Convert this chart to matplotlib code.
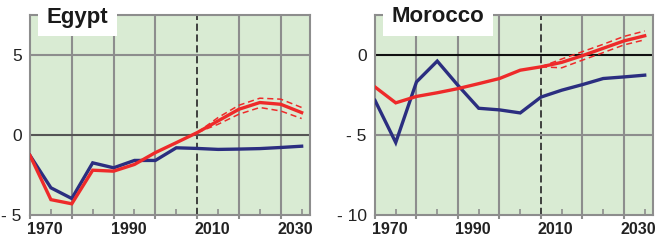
import matplotlib.pyplot as plt
from matplotlib.transforms import ScaledTranslation

years = [1965, 1970, 1975, 1980, 1985, 1990, 1995, 2000, 2005, 2010, 2015, 2020, 2025, 2030]
fc_years = [2005, 2010, 2015, 2020, 2025, 2030]

egypt_blue = [-1.28, -3.3, -3.97, -1.74, -2.05, -1.59, -1.59, -0.8, -0.84, -0.9, -0.88, -0.85, -0.78, -0.7]
egypt_red = [-1.28, -4.04, -4.3, -2.2, -2.26, -1.84, -1.1, -0.48, 0.15, 0.88, 1.61, 2.03, 1.92, 1.4]
egypt_hi = [0.15, 1.09, 1.86, 2.3, 2.24, 1.72]
egypt_lo = [0.15, 0.67, 1.3, 1.72, 1.5, 1.03]

morocco_blue = [-2.84, -5.47, -1.68, -0.38, -1.9, -3.33, -3.43, -3.62, -2.63, -2.2, -1.85, -1.47, -1.37, -1.26]
morocco_red = [-2.0, -2.99, -2.59, -2.36, -2.1, -1.79, -1.47, -0.95, -0.74, -0.46, -0.04, 0.42, 0.88, 1.2]
morocco_hi = [-0.74, -0.25, 0.21, 0.67, 1.16, 1.5]
morocco_lo = [-0.74, -0.8, -0.32, 0.15, 0.63, 0.95]

year_labels = ["1970", "", "1990", "", "2010", "", "2030"]

BG = "#d9ebd3"
GRID = "#8d8d8d"
BLUE = "#2b2e80"
RED = "#ee2a2a"
FONT = ["Liberation Sans", "DejaVu Sans"]

fig = plt.figure(figsize=(6.55, 2.42), dpi=100)

panels = [
    ("Egypt", [30 / 655, 27 / 242, 280 / 655, 200 / 242], (-5, 7.5), [-5, 0, 5], ["- 5", "0", "5"],
     egypt_blue, egypt_red, egypt_hi, egypt_lo, "#555555"),
    ("Morocco", [375 / 655, 27 / 242, 278 / 655, 200 / 242], (-10, 2.5), [-10, -5, 0], ["- 10", "- 5", "0"],
     morocco_blue, morocco_red, morocco_hi, morocco_lo, "#111111"),
]

shift = ScaledTranslation(-6 / 100, 0, fig.dpi_scale_trans)

for name, rect, ylim, yt, ytl, blue, red, hi, lo, zcol in panels:
    ax = fig.add_axes(rect)
    ax.set_facecolor(BG)
    ax.set_xlim(1965, 2032)
    ax.set_ylim(*ylim)

    for x in range(1975, 2030, 10):
        if x == 2005:
            ax.axvline(x, color="#333333", lw=1.3, ls=(0, (4, 2)), zorder=1)
        else:
            ax.axvline(x, color=GRID, lw=1.5, zorder=1)
    for y in yt[1:]:
        if y == 0:
            ax.axhline(0, color=zcol, lw=1.5, zorder=1)
        else:
            ax.axhline(y, color=GRID, lw=1.5, zorder=1)

    ax.plot(years, blue, color=BLUE, lw=2.4, zorder=3, solid_joinstyle="miter")
    ax.plot(years, red, color=RED, lw=2.4, zorder=4, solid_joinstyle="miter")
    ax.plot(fc_years, hi, color=RED, lw=1.1, ls=(0, (4, 2.5)), zorder=4)
    ax.plot(fc_years, lo, color=RED, lw=1.1, ls=(0, (4, 2.5)), zorder=4)

    for s in ax.spines.values():
        s.set_color(GRID)
        s.set_linewidth(1.5)

    ax.set_xticks(range(1965, 2030, 10))
    ax.set_xticklabels([])
    ax.tick_params(axis="x", which="major", direction="out", length=3, width=1.5, color=GRID)
    ax.set_xticks(range(1970, 2031, 10), minor=True)
    ax.set_xticklabels(year_labels, minor=True, fontsize=11.5, fontweight="bold", family=FONT, color="#222222")
    ax.tick_params(axis="x", which="minor", direction="in", length=4, width=1.2, color=GRID, pad=5)
    for lab in ax.get_xticklabels(minor=True):
        lab.set_transform(lab.get_transform() + shift)

    ax.set_yticks(yt)
    ax.set_yticklabels(ytl, fontsize=12.5, family=FONT, color="#222222")
    ax.tick_params(axis="y", length=0, pad=6)

    ax.text(0.06, 0.99, name, transform=ax.transAxes, fontsize=16, fontweight="bold", family=FONT,
            color="#1a1a1a", va="center", ha="left", clip_on=False, zorder=10,
            bbox=dict(facecolor="white", edgecolor="none", boxstyle="square,pad=0.4"))

fig.savefig("out.png", dpi=100)
